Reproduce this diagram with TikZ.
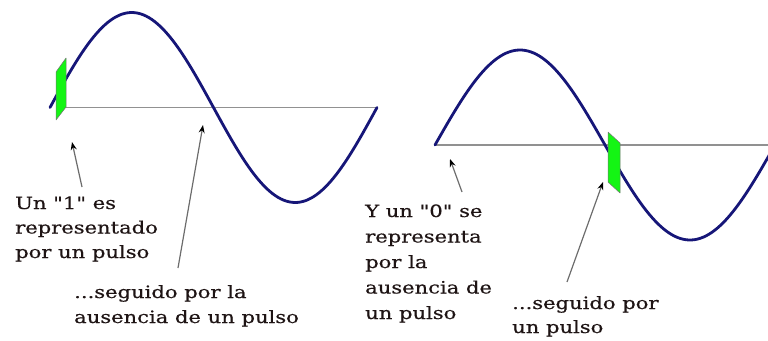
\documentclass[tikz,border=0pt]{standalone}
\usepackage{fontspec}
\setmainfont{DejaVu Serif}[FakeBold=0.5]
\newfontfamily\heavyserif{DejaVu Serif}[FakeBold=0.5]
\usepackage{graphicx}
\usetikzlibrary{arrows.meta}
\definecolor{wavec}{RGB}{22,22,120}
\definecolor{axisc}{RGB}{145,145,145}
\definecolor{pulsec}{RGB}{20,245,20}
\definecolor{txtc}{RGB}{30,20,20}
\newcommand{\stretchtxt}[1]{\scalebox{1.24}[1]{#1}}
\newcommand{\qq}{\textquotedbl}
\tikzset{
  wave/.style={draw=wavec, line width=2.8pt, line cap=round},
  axisline/.style={draw=axisc, line width=1.3pt},
  pulse/.style={fill=pulsec, draw=black!55, line width=0.5pt, line join=round},
  ptr/.style={draw=gray!85!black, line width=1.2pt, -{Stealth[black, length=8pt, width=6pt]}},
  lbl/.style={anchor=base west, inner sep=0pt, text=txtc, font=\heavyserif\fontsize{17}{20}\selectfont}
}
\begin{document}
\begin{tikzpicture}[x=1pt, y=-1pt]
\useasboundingbox (0,0) rectangle (768,340);
% left wave
\draw[axisline] (56,107.5) -- (377,107.5);
\draw[wave] plot[domain=0:327, samples=120, smooth] ({50+\x},{107.5-95*sin(\x/327*360)});
\filldraw[pulse] (56,120) -- (56,72) -- (66,58) -- (66,107) -- cycle;
% right wave
\draw[axisline] (435,145) -- (768,145);
\draw[wave] plot[domain=0:336, samples=120, smooth] ({435+\x},{145-95*sin(\x/340*360)});
\filldraw[pulse] (608,132) -- (620,143) -- (620,193) -- (608,182) -- cycle;
% labels
\node[lbl] (t1a) at (15,209) {\stretchtxt{Un \qq1\qq\ es}};
\node[lbl] (t1b) at (15,233.5) {\stretchtxt{representado}};
\node[lbl] (t1c) at (15,258) {\stretchtxt{por un pulso}};
\node[lbl] (t2a) at (74,298) {\stretchtxt{...seguido por la}};
\node[lbl] (t2b) at (74,323) {\stretchtxt{ausencia de un pulso}};
\node[lbl] (t3a) at (365,217) {\stretchtxt{Y un \qq0\qq\ se}};
\node[lbl] (t3b) at (365,242.5) {\stretchtxt{representa}};
\node[lbl] (t3c) at (365,268) {\stretchtxt{por la}};
\node[lbl] (t3d) at (365,293.5) {\stretchtxt{ausencia de}};
\node[lbl] (t3e) at (365,319) {\stretchtxt{un pulso}};
\node[lbl] (t4a) at (512,309) {\stretchtxt{...seguido por}};
\node[lbl] (t4b) at (512,333) {\stretchtxt{un pulso}};
% arrows
\coordinate (a1s) at (82,187); \coordinate (a1e) at (72,142);
\coordinate (a2s) at (178,268); \coordinate (a2e) at (203,125);
\coordinate (a3s) at (462,192); \coordinate (a3e) at (450,159);
\coordinate (a4s) at (567,282); \coordinate (a4e) at (603,182);
\draw[ptr] (a1s) -- (a1e);
\draw[ptr] (a2s) -- (a2e);
\draw[ptr] (a3s) -- (a3e);
\draw[ptr] (a4s) -- (a4e);
\end{tikzpicture}
\end{document}
